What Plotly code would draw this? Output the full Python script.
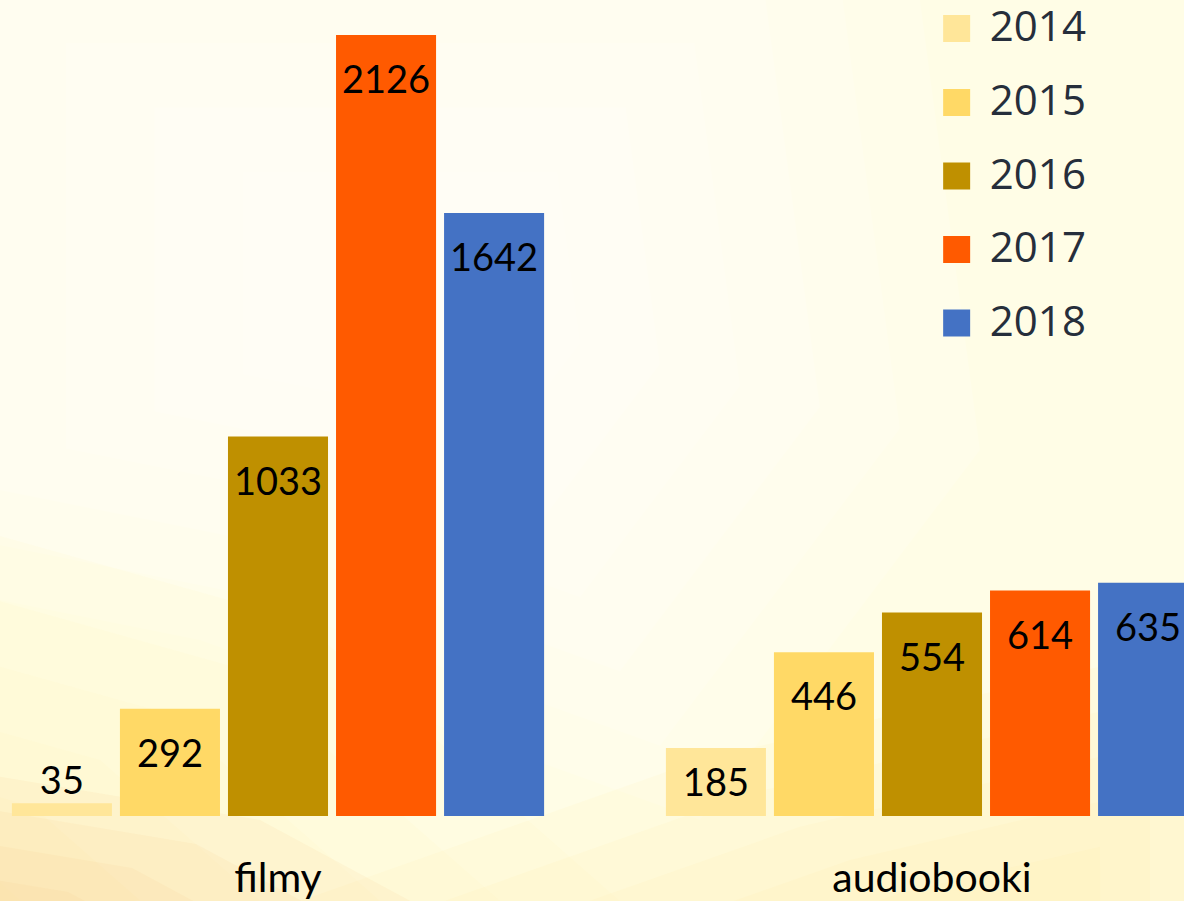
import plotly.graph_objects as go

# data
categories = ["filmy", "audiobooki"]
years = ["2014", "2015", "2016", "2017", "2018"]
values_2014 = [35, 185]
values_2015 = [292, 446]
values_2016 = [1033, 554]
values_2017 = [2126, 614]
values_2018 = [1642, 635]
colors = ["#FFE699", "#FFD966", "#BF9000", "#FF5A00", "#4472C4"]

series = [values_2014, values_2015, values_2016, values_2017, values_2018]

W, H = 1184, 901
PLOT_H = 816  # baseline of the bars in pixels

fig = go.Figure()

for year, vals, color in zip(years, series, colors):
    fig.add_trace(
        go.Bar(
            name=year,
            x=categories,
            y=vals,
            marker=dict(color=color, line=dict(width=0)),
            offsetgroup=year,
            showlegend=False,
            hoverinfo="x+y+name",
        )
    )
    # value labels: inside the top of the bar, or just above when the bar is tiny
    fig.add_trace(
        go.Scatter(
            x=categories,
            y=vals,
            mode="markers+text",
            text=[str(v) for v in vals],
            textposition=["top center" if v < 100 else "bottom center" for v in vals],
            marker=dict(size=[0 if v < 100 else (30 if v < 250 else 46) for v in vals], opacity=0),
            textfont=dict(family="Lato", size=38, color="#000000"),
            offsetgroup=year,
            cliponaxis=False,
            showlegend=False,
            hoverinfo="skip",
        )
    )

# legend drawn on an overlay pixel axis so the swatches can be large
legend_y = [28.5, 102.5, 176, 249.5, 323]
fig.add_trace(
    go.Scatter(
        x=[961.5] * len(years),
        y=legend_y,
        mode="markers",
        marker=dict(symbol="square", size=27, color=colors, line=dict(width=0)),
        xaxis="x2",
        yaxis="y2",
        cliponaxis=False,
        showlegend=False,
        hoverinfo="skip",
    )
)
fig.add_trace(
    go.Scatter(
        x=[985] * len(years),
        y=[y + 2 for y in legend_y],
        mode="text",
        text=years,
        textposition="middle right",
        textfont=dict(family="Open Sans", size=42, color="#262E3B"),
        xaxis="x2",
        yaxis="y2",
        cliponaxis=False,
        showlegend=False,
        hoverinfo="skip",
    )
)


def poly(points):
    """pixel polygon -> svg path in paper coords (plot area = top 816 px)"""
    parts = []
    for i, (x, y) in enumerate(points):
        parts.append(("M" if i == 0 else "L") + f"{x / W:.4f},{(PLOT_H - y) / PLOT_H:.4f}")
    return " ".join(parts) + " Z"


def soft_blob(points, center, color, steps=6, alpha=0.14):
    """stack shrinking copies of a polygon to fake a soft gradient"""
    cx, cy = center
    out = []
    for k in range(steps):
        f = 1 - k / steps
        pts = [(cx + (x - cx) * f, cy + (y - cy) * f) for x, y in points]
        out.append(dict(type="path", path=poly(pts), fillcolor=color, opacity=alpha,
                        line=dict(width=0), xref="paper", yref="paper", layer="below"))
    return out


shapes = []
# whitish glow over the upper middle
shapes += soft_blob([(-200, -150), (900, -150), (980, 450), (700, 820), (200, 640), (-200, 560)],
                    (420, 300), "#FFFFFF", steps=7, alpha=0.16)
# yellow towards the bottom right
shapes += soft_blob([(300, 901), (700, 760), (1300, 620), (1300, 1050), (300, 1050)],
                    (1000, 960), "#FFF09A", steps=6, alpha=0.10)
# yellow wash lower left
shapes += soft_blob([(-200, 480), (300, 620), (620, 901), (-200, 1000)],
                    (-100, 900), "#FFF2B0", steps=6, alpha=0.09)
# orange corner sweep
shapes += soft_blob([(-100, 760), (260, 820), (520, 960), (-100, 960)],
                    (-60, 940), "#F4C27E", steps=5, alpha=0.10)

fig.update_layout(
    width=W,
    height=H,
    margin=dict(l=0, r=0, t=0, b=H - PLOT_H),
    paper_bgcolor="#FFFDE6",
    plot_bgcolor="rgba(0,0,0,0)",
    barmode="group",
    bargap=0.174,
    bargroupgap=0.074,
    scattermode="group",
    scattergap=0.174,
    showlegend=False,
    shapes=shapes,
    xaxis=dict(
        type="category",
        range=[-278 / 654, (W - 278) / 654],
        showgrid=False,
        showline=False,
        zeroline=False,
        ticks="",
        ticklabelstandoff=34,
        tickfont=dict(family="Lato", size=41, color="#000000"),
        automargin=False,
        fixedrange=True,
    ),
    yaxis=dict(
        range=[0, PLOT_H / 0.3673],
        visible=False,
        fixedrange=True,
    ),
    xaxis2=dict(domain=[0, 1], range=[0, W], visible=False, anchor="y2", fixedrange=True),
    yaxis2=dict(domain=[0, 1], range=[PLOT_H, 0], visible=False, anchor="x2", fixedrange=True),
)

fig.write_html(
    "out.html",
    config={"displayModeBar": False},
    post_script="document.body.style.margin='0';document.body.style.overflow='hidden';",
)
